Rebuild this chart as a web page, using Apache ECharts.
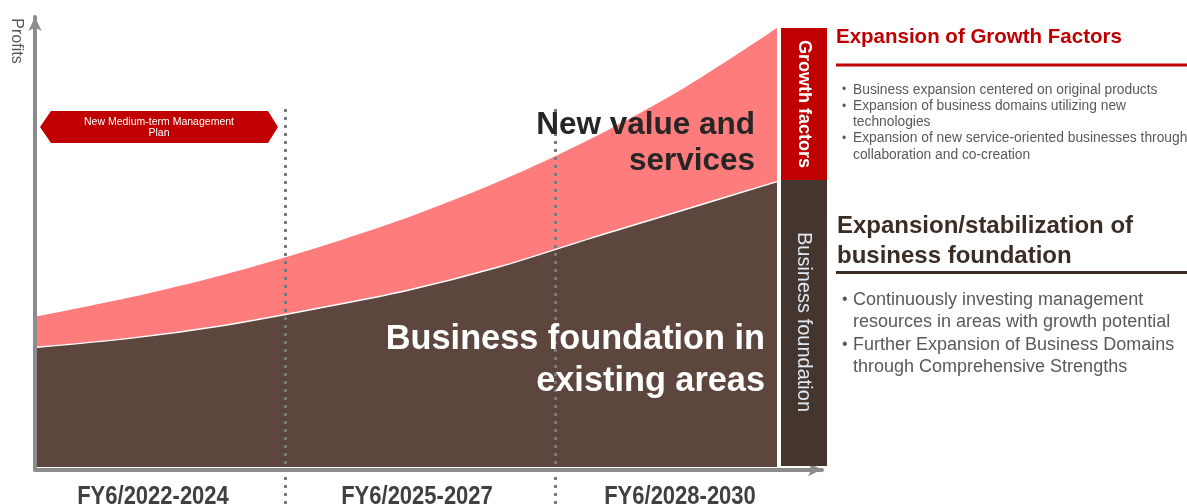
<!DOCTYPE html>
<html><head><meta charset="utf-8">
<script src="https://cdn.jsdelivr.net/npm/echarts@6/dist/echarts.min.js"></script>
<style>html,body{margin:0;padding:0;background:#fff}#c{width:1187px;height:504px}</style>
</head><body><div id="c"></div>
<script>
// timeline progress (0 = start of FY6/2022, 100 = end of plan horizon)
const progress = [0, 12.5, 25, 37.5, 50, 62.5, 75, 87.5, 100];
// total profits (growth factors + foundation), relative scale
const totalProfit = [34.3, 38.6, 43.7, 49.8, 56.8, 65.1, 74.9, 86.4, 100];
// business foundation profits
const foundationProfit = [27.3, 29.3, 32.2, 36.0, 40.2, 45.6, 52.2, 58.6, 65.0];
const periodBoundaries = [33.5, 70.0];
const periodLabels = ['FY6/2022-2024', 'FY6/2025-2027', 'FY6/2028-2030'];
const growthBullets = [
  ['• ', 'Business expansion centered on original products'],
  ['• ', 'Expansion of business domains utilizing new'],
  ['', 'technologies'],
  ['• ', 'Expansion of new service-oriented businesses through'],
  ['', 'collaboration and co-creation']
];
const foundationBullets = [
  ['• ', 'Continuously investing management'],
  ['', 'resources in areas with growth potential'],
  ['• ', 'Further Expansion of Business Domains'],
  ['', 'through Comprehensive Strengths']
];

const F = '"Liberation Sans", Arial, sans-serif';
const zip = (a, b) => a.map((v, i) => [v, b[i]]);

const graphic = [];
function txt(x, y, text, font, fill, align, extra) {
  graphic.push(Object.assign({
    type: 'text', x: x, y: y, z: 100, silent: true,
    style: { text: text, font: font, fill: fill, textAlign: align || 'left', textVerticalAlign: 'middle' }
  }, extra || {}));
}
// hexagon label
graphic.push({ type: 'polygon', z: 90, silent: true,
  shape: { points: [[40,127],[51,111],[268,111],[278,127],[268,143],[51,143]] },
  style: { fill: '#C00000' } });
txt(159, 122.5, 'New Medium-term Management', '10.5px ' + F, '#fff', 'center');
txt(159, 133.5, 'Plan', '10.5px ' + F, '#fff', 'center');
// Profits axis name
txt(16.5, 41, 'Profits', '16px ' + F, '#595959', 'center', { rotation: -Math.PI / 2 });
// side boxes
graphic.push({ type: 'rect', z: 90, silent: true, shape: { x: 781, y: 28, width: 46, height: 152 }, style: { fill: '#C00000' } });
graphic.push({ type: 'rect', z: 90, silent: true, shape: { x: 781, y: 180, width: 46, height: 286 }, style: { fill: '#44362F' } });
txt(804, 104, 'Growth factors', 'bold 18px ' + F, '#fff', 'center', { rotation: -Math.PI / 2 });
txt(804, 322, 'Business foundation', '20px ' + F, '#dfe7f2', 'center', { rotation: -Math.PI / 2 });
// in-chart annotations
txt(755, 125, 'New value and', 'bold 31.5px ' + F, '#262626', 'right');
txt(755, 161, 'services', 'bold 31.5px ' + F, '#262626', 'right');
txt(765, 340, 'Business foundation in', 'bold 34.3px ' + F, '#fff', 'right');
txt(765, 382, 'existing areas', 'bold 34.3px ' + F, '#fff', 'right');
// right panel
txt(836, 37, 'Expansion of Growth Factors', 'bold 20.5px ' + F, '#C00000');
graphic.push({ type: 'line', z: 90, silent: true, shape: { x1: 836, y1: 65, x2: 1187, y2: 65 }, style: { stroke: '#C00000', lineWidth: 3 } });
growthBullets.forEach((b, i) => {
  const y = 90 + i * 16.2;
  if (b[0]) txt(842, y, '•', '12px ' + F, '#595959');
  txt(853, y, b[1], '13.8px ' + F, '#595959');
});
txt(837, 226, 'Expansion/stabilization of', 'bold 24px ' + F, '#3B2C24');
txt(837, 256, 'business foundation', 'bold 24px ' + F, '#3B2C24');
graphic.push({ type: 'line', z: 90, silent: true, shape: { x1: 836, y1: 272.5, x2: 1187, y2: 272.5 }, style: { stroke: '#3B2C24', lineWidth: 3 } });
foundationBullets.forEach((b, i) => {
  const y = 300 + i * 22.3;
  if (b[0]) txt(842, y, '•', '16px ' + F, '#595959');
  txt(853, y, b[1], '18px ' + F, '#595959');
});
// period labels (condensed via horizontal scaling)
const labelCenters = [153, 417, 680];
periodLabels.forEach((l, i) => txt(labelCenters[i], 497, l, 'bold 26.5px ' + F, '#404040', 'center', { scaleX: 0.83 }));

const chart = echarts.init(document.getElementById('c'));
chart.setOption({
  animation: false,
  backgroundColor: '#fff',
  grid: [
    { left: 37, right: 410, top: 28, bottom: 37 },
    { left: 37, right: 410, top: 106, bottom: 0 },
    { left: 35, right: 365, top: 17, bottom: 34.5 }
  ],
  xAxis: [
    { gridIndex: 0, type: 'value', min: 0, max: 100, show: false },
    { gridIndex: 1, type: 'value', min: 0, max: 100, show: false },
    { gridIndex: 2, type: 'value', min: 0, max: 1, z: 5,
      axisLine: { show: true, onZero: false, symbol: ['none', 'arrow'], symbolSize: [10, 14], lineStyle: { color: '#8c8c8c', width: 4 } },
      axisTick: { show: false }, axisLabel: { show: false }, splitLine: { show: false } }
  ],
  yAxis: [
    { gridIndex: 0, type: 'value', min: 0, max: 100, show: false },
    { gridIndex: 1, type: 'value', min: 0, max: 1, show: false },
    { gridIndex: 2, type: 'value', min: 0, max: 1, z: 5,
      axisLine: { show: true, onZero: false, symbol: ['none', 'arrow'], symbolSize: [10, 14], lineStyle: { color: '#8c8c8c', width: 4 } },
      axisTick: { show: false }, axisLabel: { show: false }, splitLine: { show: false } }
  ],
  series: [
    { name: 'Growth factors', type: 'line', xAxisIndex: 0, yAxisIndex: 0, data: zip(progress, totalProfit),
      smooth: 0.3, symbol: 'none', lineStyle: { width: 0 },
      areaStyle: { color: '#FF7C7C', opacity: 1 }, z: 2 },
    { name: 'Business foundation', type: 'line', xAxisIndex: 0, yAxisIndex: 0, data: zip(progress, foundationProfit),
      smooth: 0.3, symbol: 'none', lineStyle: { color: '#fff', width: 1.5 },
      areaStyle: { color: '#5D463D', opacity: 1 }, z: 3 },
    { name: 'periods', type: 'line', xAxisIndex: 1, yAxisIndex: 1, data: [], z: 4,
      markLine: { silent: true, symbol: ['none', 'none'], label: { show: false },
        lineStyle: { color: '#7a7a7a', type: [3, 5], width: 3 },
        data: periodBoundaries.map(v => ({ xAxis: v })) } }
  ],
  graphic: graphic
});
</script>
</body></html>
